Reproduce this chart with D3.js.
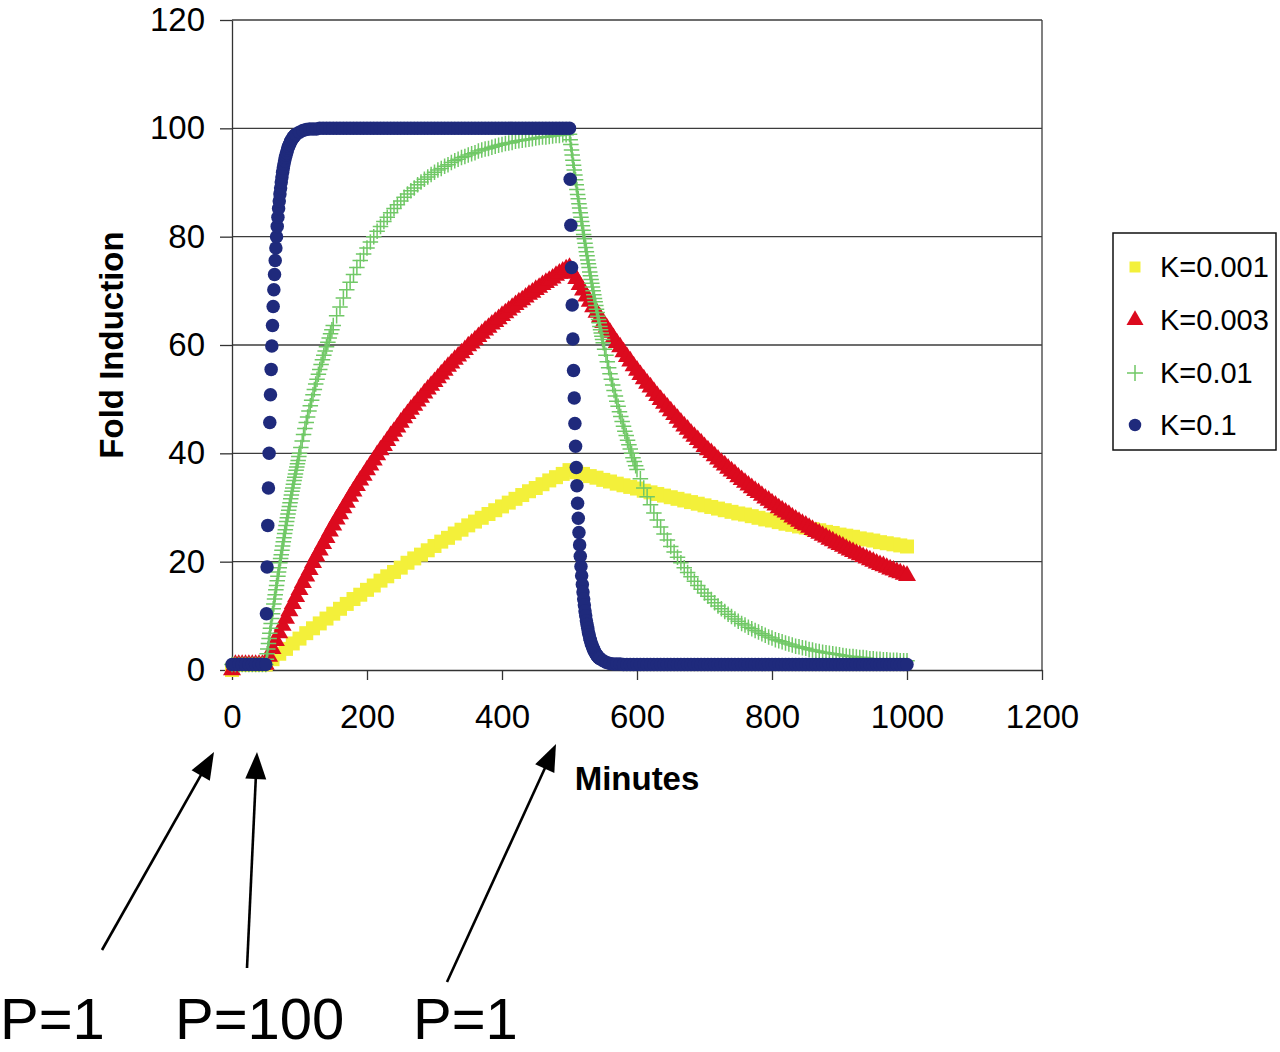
<!DOCTYPE html>
<html><head><meta charset="utf-8">
<script src="https://cdn.jsdelivr.net/npm/d3@7"></script>
<style>
body{margin:0;background:#fff}
svg{display:block}
text{font-family:"Liberation Sans",Arial,Helvetica,sans-serif}
</style>
</head><body>
<svg id="chart" width="1280" height="1052"></svg>
<script>
// ---------------- data ----------------
const xTicks = [0, 200, 400, 600, 800, 1000, 1200];
const yTicks = [0, 20, 40, 60, 80, 100, 120];
const seriesNames = ["K=0.001", "K=0.003", "K=0.01", "K=0.1"];
const xTitle = "Minutes";
const yTitle = "Fold Induction";
const annotationLabels = ["P=1", "P=100", "P=1"];

// K=0.001 (yellow)
const yellowPre = [0, 1, 1, 1, 1];                       // minutes 0..40 every 10
const yellowRise = [1.0, 2.0, 3.0, 3.9, 4.9, 5.8, 6.8, 7.7, 8.6, 9.5,
  10.4, 11.3, 12.2, 13.1, 13.9, 14.8, 15.6, 16.5, 17.3, 18.1,
  18.9, 19.8, 20.6, 21.3, 22.1, 22.9, 23.7, 24.4, 25.2, 25.9,
  26.7, 27.4, 28.1, 28.8, 29.5, 30.2, 30.9, 31.6, 32.3, 33.0,
  33.6, 34.3, 35.0, 35.6, 36.2, 36.9];                  // minutes 50..500 every 10
const yellowFall = [36.5, 36.2, 35.8, 35.5, 35.1, 34.8, 34.4, 34.1, 33.8, 33.5,
  33.1, 32.8, 32.5, 32.2, 31.9, 31.6, 31.3, 31.0, 30.7, 30.4,
  30.1, 29.8, 29.5, 29.2, 28.9, 28.7, 28.4, 28.1, 27.8, 27.6,
  27.3, 27.0, 26.8, 26.5, 26.3, 26.0, 25.8, 25.5, 25.3, 25.0,
  24.8, 24.6, 24.3, 24.1, 23.9, 23.6, 23.4, 23.2, 23.0, 22.8]; // minutes 510..1000 every 10

// K=0.003 (red)
const redPre = [0, 1, 1, 1, 1, 1, 1, 1, 1, 1];           // minutes 0..45 every 5
const redRise = [1.0, 2.5, 3.9, 5.4, 6.8, 8.2, 9.5, 10.9, 12.2, 13.5,
  14.8, 16.1, 17.3, 18.5, 19.8, 21.0, 22.1, 23.3, 24.4, 25.6,
  26.7, 27.8, 28.8, 29.9, 30.9, 32.0, 33.0, 34.0, 35.0, 35.9,
  36.9, 37.8, 38.7, 39.7, 40.6, 41.4, 42.3, 43.2, 44.0, 44.8,
  45.7, 46.5, 47.3, 48.1, 48.8, 49.6, 50.3, 51.1, 51.8, 52.5,
  53.2, 53.9, 54.6, 55.3, 56.0, 56.6, 57.3, 57.9, 58.5, 59.1,
  59.8, 60.3, 60.9, 61.5, 62.1, 62.7, 63.2, 63.8, 64.3, 64.8,
  65.4, 65.9, 66.4, 66.9, 67.4, 67.9, 68.3, 68.8, 69.3, 69.7,
  70.2, 70.6, 71.1, 71.5, 71.9, 72.3, 72.8, 73.2, 73.6, 74.0,
  74.3];                                                 // minutes 50..500 every 5
const redFall = [73.2, 72.2, 71.1, 70.1, 69.0, 68.0, 67.0, 66.0, 65.1, 64.1,
  63.2, 62.3, 61.3, 60.4, 59.6, 58.7, 57.8, 57.0, 56.1, 55.3,
  54.5, 53.7, 52.9, 52.2, 51.4, 50.6, 49.9, 49.2, 48.5, 47.8,
  47.1, 46.4, 45.7, 45.0, 44.4, 43.7, 43.1, 42.5, 41.9, 41.2,
  40.6, 40.1, 39.5, 38.9, 38.3, 37.8, 37.2, 36.7, 36.2, 35.6,
  35.1, 34.6, 34.1, 33.6, 33.1, 32.7, 32.2, 31.7, 31.3, 30.8,
  30.4, 29.9, 29.5, 29.1, 28.7, 28.2, 27.8, 27.4, 27.0, 26.7,
  26.3, 25.9, 25.5, 25.2, 24.8, 24.5, 24.1, 23.8, 23.4, 23.1,
  22.8, 22.4, 22.1, 21.8, 21.5, 21.2, 20.9, 20.6, 20.3, 20.0,
  19.7, 19.4, 19.2, 18.9, 18.6, 18.4, 18.1, 17.9, 17.6, 17.4]; // minutes 505..1000 every 5

// K=0.01 (green)
const greenPre = [1, 1, 1, 1, 1, 1, 1, 1, 1, 1];         // minutes 0..45 every 5
const greenRiseA = [1.0, 2.0, 3.0, 3.9, 4.9, 5.8, 6.8, 7.7, 8.6, 9.5,
  10.4, 11.3, 12.2, 13.1, 13.9, 14.8, 15.6, 16.5, 17.3, 18.1,
  18.9, 19.8, 20.6, 21.3, 22.1, 22.9, 23.7, 24.4, 25.2, 25.9,
  26.7, 27.4, 28.1, 28.8, 29.5, 30.2, 30.9, 31.6, 32.3, 33.0,
  33.6, 34.3, 35.0, 35.6, 36.2, 36.9, 37.5, 38.1, 38.7, 39.4,
  40.0];                                                 // minutes 50..100 every 1
const greenRiseB = [41.1, 42.3, 43.5, 44.6, 45.7, 46.7, 47.8, 48.8, 49.8, 50.8,
  51.8, 52.8, 53.7, 54.6, 55.5, 56.4, 57.3, 58.1, 58.9, 59.7,
  60.5, 61.3, 62.1, 62.8, 63.6];                         // minutes 102..150 every 2
const greenRiseC = [65.4, 67.0, 68.7, 70.2, 71.6, 73.0, 74.3, 75.6, 76.8, 77.9,
  79.0, 80.0, 81.0, 81.9, 82.8, 83.6, 84.4, 85.2, 85.9, 86.6,
  87.3, 87.9, 88.5, 89.0, 89.6, 90.1, 90.6, 91.0, 91.5, 91.9,
  92.3, 92.6, 93.0, 93.3, 93.7, 94.0, 94.3, 94.6, 94.8, 95.1,
  95.3, 95.5, 95.8, 96.0, 96.2, 96.3, 96.5, 96.7, 96.9, 97.0,
  97.2, 97.3, 97.4, 97.6, 97.7, 97.8, 97.9, 98.0, 98.1, 98.2,
  98.3, 98.4, 98.4, 98.5, 98.6, 98.7, 98.7, 98.8, 98.8, 98.9]; // minutes 155..500 every 5
const greenFallA = [97.9, 97.0, 96.0, 95.1, 94.1, 93.2, 92.3, 91.4, 90.5, 89.6,
  88.7, 87.8, 87.0, 86.1, 85.3, 84.4, 83.6, 82.8, 82.0, 81.2,
  80.4, 79.6, 78.8, 78.0, 77.2, 76.5, 75.7, 75.0, 74.3, 73.5,
  72.8, 72.1, 71.4, 70.7, 70.0, 69.3, 68.6, 68.0, 67.3, 66.6,
  66.0, 65.3, 64.7, 64.1, 63.4, 62.8, 62.2, 61.6, 61.0, 60.4]; // minutes 501..550 every 1
const greenFallB = [59.2, 58.1, 56.9, 55.8, 54.7, 53.7, 52.6, 51.6, 50.6, 49.6,
  48.7, 47.7, 46.8, 45.9, 45.0, 44.1, 43.3, 42.4, 41.6, 40.8,
  40.0, 39.2, 38.5, 37.7, 37.0];                         // minutes 552..600 every 2
const greenFallC = [35.3, 33.6, 32.0, 30.5, 29.0, 27.7, 26.4, 25.1, 24.0, 22.8,
  21.8, 20.8, 19.8, 18.9, 18.0, 17.2, 16.4, 15.6, 14.9, 14.2,
  13.6, 13.0, 12.4, 11.8, 11.3, 10.8, 10.3, 9.9, 9.4, 9.0,
  8.6, 8.3, 7.9, 7.6, 7.3, 7.0, 6.7, 6.4, 6.1, 5.9,
  5.6, 5.4, 5.2, 5.0, 4.8, 4.6, 4.4, 4.3, 4.1, 4.0,
  3.8, 3.7, 3.5, 3.4, 3.3, 3.2, 3.1, 3.0, 2.9, 2.8,
  2.7, 2.6, 2.5, 2.5, 2.4, 2.3, 2.3, 2.2, 2.1, 2.1,
  2.0, 2.0, 1.9, 1.9, 1.8, 1.8, 1.8, 1.7, 1.7, 1.7];    // minutes 605..1000 every 5

// K=0.1 (blue)
const bluePre = [1, 1, 1, 1, 1, 1, 1, 1, 1, 1];          // minutes 0..45 every 5
const blueRise = [1.0, 10.4, 19.0, 26.7, 33.6, 40.0, 45.7, 50.8, 55.5, 59.8,
  63.6, 67.1, 70.2, 73.0, 75.6, 77.9, 80.0, 81.9, 83.6, 85.2,
  86.6, 87.9, 89.0, 90.1, 91.0, 91.9, 92.7, 93.4, 94.0, 94.6,
  95.1, 95.5, 96.0, 96.4, 96.7, 97.0, 97.3, 97.6, 97.8, 98.0,
  98.2, 98.4, 98.5, 98.7, 98.8, 98.9];                  // minutes 50..95 every 1
const bluePlateau = [99.3, 99.6, 99.8, 99.9, 99.9, 99.9,
  100, 100, 100, 100, 100, 100, 100, 100, 100, 100,
  100, 100, 100, 100, 100, 100, 100, 100, 100, 100,
  100, 100, 100, 100, 100, 100, 100, 100, 100, 100,
  100, 100, 100, 100, 100, 100, 100, 100, 100, 100,
  100, 100, 100, 100, 100, 100, 100, 100, 100, 100,
  100, 100, 100, 100, 100, 100, 100, 100, 100, 100,
  100, 100, 100, 100, 100, 100, 100, 100, 100, 100,
  100, 100, 100, 100];                                   // minutes 100..495 every 5
const blueFall = [100, 90.6, 82.1, 74.3, 67.4, 61.1, 55.3, 50.2, 45.5, 41.3, 37.4,
  34.0, 30.8, 28.0, 25.4, 23.1, 21.0, 19.1, 17.4, 15.8, 14.4,
  13.1, 12.0, 10.9, 10.0, 9.1, 8.4, 7.7, 7.0, 6.5, 5.9,
  5.5, 5.0, 4.7, 4.3, 4.0, 3.7, 3.5, 3.2, 3.0, 2.8,
  2.6, 2.5, 2.3, 2.2, 2.1];                              // minutes 500..545 every 1
const blueTail = [1.7, 1.4, 1.2, 1.1, 1.1, 1.1,
  1, 1, 1, 1, 1, 1, 1, 1, 1, 1,
  1, 1, 1, 1, 1, 1, 1, 1, 1, 1,
  1, 1, 1, 1, 1, 1, 1, 1, 1, 1,
  1, 1, 1, 1, 1, 1, 1, 1, 1, 1,
  1, 1, 1, 1, 1, 1, 1, 1, 1, 1,
  1, 1, 1, 1, 1, 1, 1, 1, 1, 1,
  1, 1, 1, 1, 1, 1, 1, 1, 1, 1,
  1, 1, 1, 1, 1, 1, 1, 1, 1, 1,
  1, 1, 1, 1, 1];                                        // minutes 550..1000 every 5

// sampling: [first minute, minute step, values]
const yellowSegments = [[0, 10, yellowPre], [50, 10, yellowRise], [510, 10, yellowFall]];
const redSegments = [[0, 5, redPre], [50, 5, redRise], [505, 5, redFall]];
const greenSegments = [[0, 5, greenPre], [50, 1, greenRiseA], [102, 2, greenRiseB], [155, 5, greenRiseC],
  [501, 1, greenFallA], [552, 2, greenFallB], [605, 5, greenFallC]];
const blueSegments = [[0, 5, bluePre], [50, 1, blueRise], [100, 5, bluePlateau], [500, 1, blueFall], [550, 5, blueTail]];

// ---------------- layout / style ----------------
const W = 1280, H = 1052;
const plot = {left: 232, right: 1042, top: 20, bottom: 670};
const FONT = '"Liberation Sans", Arial, Helvetica, sans-serif';
const AXIS_COLOR = "#333";

const svg = d3.select("#chart").attr("width", W).attr("height", H);
svg.append("rect").attr("width", W).attr("height", H).attr("fill", "#fff");

const x = d3.scaleLinear().domain([0, 1200]).range([plot.left, plot.right]);
const y = d3.scaleLinear().domain([0, 120]).range([plot.bottom, plot.top]);

const toPoints = segs => segs.flatMap(([start, step, vals]) =>
  vals.map((v, i) => ({minute: start + i * step, value: v})));

const seriesDefs = [
  {name: seriesNames[0], points: toPoints(yellowSegments), shape: "square", color: "#f3f03a"},
  {name: seriesNames[1], points: toPoints(redSegments), shape: "triangle", color: "#dc0a1e"},
  {name: seriesNames[2], points: toPoints(greenSegments), shape: "plus", color: "#70c866"},
  {name: seriesNames[3], points: toPoints(blueSegments), shape: "circle", color: "#1f2a7c"}
];

const shapes = {
  square: s => d3.symbol(d3.symbolSquare, s * s)(),
  triangle: s => d3.symbol(d3.symbolTriangle, s * s * 0.433)(),
  plus: s => `M${-s / 2},0H${s / 2}M0,${-s / 2}V${s / 2}`,
  circle: s => d3.symbol(d3.symbolCircle, Math.PI * s * s / 4)()
};
const plotSize = {square: 14, triangle: 18, plus: 15.5, circle: 13.5};
const legendSize = {square: 11, triangle: 17, plus: 16, circle: 12.5};

function styleMarker(sel, s) {
  if (s.shape === "plus") sel.attr("fill", "none").attr("stroke", s.color).attr("stroke-width", 1.5);
  else sel.attr("fill", s.color).attr("stroke", "none");
}

// gridlines
svg.append("g").selectAll("line").data(yTicks.filter(v => v > 0)).join("line")
  .attr("x1", plot.left).attr("x2", plot.right)
  .attr("y1", d => y(d)).attr("y2", d => y(d))
  .attr("stroke", "#3c3c3c").attr("stroke-width", 1.3);
// right border
svg.append("line").attr("x1", plot.right).attr("x2", plot.right)
  .attr("y1", plot.top).attr("y2", plot.bottom)
  .attr("stroke", "#3c3c3c").attr("stroke-width", 1.3);

// axes
const gx = svg.append("g").attr("transform", `translate(0,${plot.bottom})`)
  .call(d3.axisBottom(x).tickValues(xTicks).tickFormat(d3.format("d"))
    .tickSize(10).tickPadding(25).tickSizeOuter(0));
const gy = svg.append("g").attr("transform", `translate(${plot.left},0)`)
  .call(d3.axisLeft(y).tickValues(yTicks).tickFormat(d3.format("d"))
    .tickSize(12).tickPadding(15).tickSizeOuter(0));
[gx, gy].forEach(g => {
  g.selectAll(".domain").attr("stroke", AXIS_COLOR).attr("stroke-width", 1.3);
  g.selectAll(".tick line").attr("stroke", AXIS_COLOR).attr("stroke-width", 1.3);
  g.selectAll(".tick text").attr("font-family", FONT).attr("font-size", 33).attr("fill", "#000");
});

// series markers
seriesDefs.forEach(s => {
  const d = shapes[s.shape](plotSize[s.shape]);
  svg.append("g").selectAll("path").data(s.points).join("path")
    .attr("transform", p => `translate(${x(p.minute)},${y(p.value)})`)
    .attr("d", d)
    .call(styleMarker, s);
});

// axis titles
svg.append("text").text(xTitle)
  .attr("x", (plot.left + plot.right) / 2).attr("y", 790)
  .attr("text-anchor", "middle").attr("font-family", FONT)
  .attr("font-size", 33).attr("font-weight", "bold");
svg.append("text").text(yTitle)
  .attr("transform", `translate(123,${(plot.top + plot.bottom) / 2}) rotate(-90)`)
  .attr("text-anchor", "middle").attr("font-family", FONT)
  .attr("font-size", 33).attr("font-weight", "bold");

// legend
const legend = {x: 1113, y: 233, w: 163, h: 217, rows: [267, 320, 373, 425], markerX: 1135, textX: 1160};
svg.append("rect").attr("x", legend.x).attr("y", legend.y).attr("width", legend.w).attr("height", legend.h)
  .attr("fill", "#fff").attr("stroke", "#111").attr("stroke-width", 1.5);
seriesDefs.forEach((s, i) => {
  const cy = legend.rows[i];
  svg.append("path").attr("transform", `translate(${legend.markerX},${cy})`)
    .attr("d", shapes[s.shape](legendSize[s.shape])).call(styleMarker, s);
  svg.append("text").text(s.name).attr("x", legend.textX).attr("y", cy + 10)
    .attr("font-family", FONT).attr("font-size", 29).attr("fill", "#000");
});

// annotations (arrows + labels)
const annotationLayout = [
  {textX: 0, from: [102, 950], to: [214, 752]},
  {textX: 175, from: [247, 968], to: [257, 752]},
  {textX: 413, from: [447, 982], to: [556, 744]}
];
annotationLabels.forEach((label, i) => {
  const a = annotationLayout[i];
  const dx = a.to[0] - a.from[0], dy = a.to[1] - a.from[1];
  const len = Math.hypot(dx, dy), ux = dx / len, uy = dy / len;
  const L = 27, Wd = 21;
  const bx = a.to[0] - ux * L, by = a.to[1] - uy * L;
  svg.append("line").attr("x1", a.from[0]).attr("y1", a.from[1])
    .attr("x2", bx + ux * 3).attr("y2", by + uy * 3)
    .attr("stroke", "#000").attr("stroke-width", 2.6);
  svg.append("path")
    .attr("d", `M${a.to[0]},${a.to[1]}L${bx - uy * Wd / 2},${by + ux * Wd / 2}L${bx + uy * Wd / 2},${by - ux * Wd / 2}Z`)
    .attr("fill", "#000");
  svg.append("text").text(label).attr("x", a.textX).attr("y", 1039)
    .attr("font-family", FONT).attr("font-size", 58).attr("fill", "#000");
});
</script>
</body></html>
